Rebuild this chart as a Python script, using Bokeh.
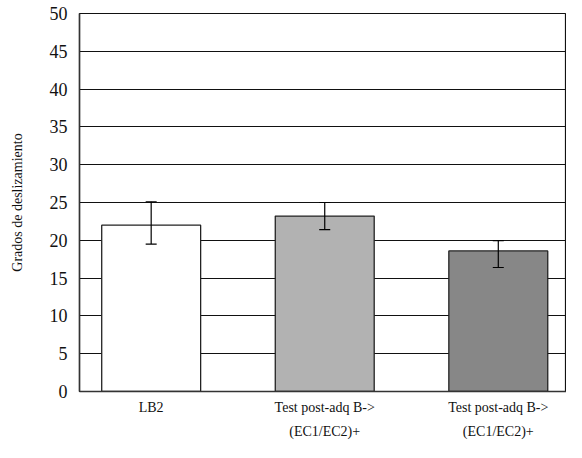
from bokeh.plotting import figure
from bokeh.models import ColumnDataSource, Range1d, FixedTicker, Whisker
from bokeh.embed import file_html
from bokeh.resources import INLINE

# ---- data ----
positions = [1, 2, 3]
labels = ["LB2", "Test post-adq B->\n(EC1/EC2)+", "Test post-adq B->\n(EC1/EC2)+"]
means = [22.0, 23.2, 18.6]
err_upper = [25.1, 25.0, 19.95]
err_lower = [19.5, 21.4, 16.4]
colors = ["#ffffff", "#b2b2b2", "#878787"]
y_ticks = [0, 5, 10, 15, 20, 25, 30, 35, 40, 45, 50]

FONT = "'Liberation Serif', 'Times New Roman', serif"

src = ColumnDataSource(dict(x=positions, top=means, upper=err_upper,
                            lower=err_lower, color=colors))

p = figure(width=566, height=442, output_backend="svg", toolbar_location=None,
           x_range=Range1d(0.587, 3.393), y_range=Range1d(0, 50),
           min_border_left=79, min_border_top=13, min_border_right=0,
           min_border_bottom=50)

p.vbar(x="x", top="top", bottom=0, width=0.57, source=src,
       fill_color="color", line_color="#222222", line_width=1.3)

w = Whisker(base="x", upper="upper", lower="lower", source=src,
            line_color="black", line_width=1.2, level="annotation")
w.upper_head.size = 11
w.lower_head.size = 11
w.upper_head.line_width = 1.2
w.lower_head.line_width = 1.2
p.add_layout(w)

# axes
p.yaxis.ticker = FixedTicker(ticks=y_ticks)
p.xaxis.ticker = FixedTicker(ticks=positions)
p.xaxis.major_label_overrides = {pos: lab for pos, lab in zip(positions, labels)}

p.yaxis.axis_label = "Grados de deslizamiento"
p.yaxis.axis_label_text_font = FONT
p.yaxis.axis_label_text_font_style = "normal"
p.yaxis.axis_label_text_font_size = "14px"
p.yaxis.axis_label_text_color = "#111111"
p.yaxis.axis_label_standoff = 22

p.yaxis.major_label_text_font = FONT
p.yaxis.major_label_text_font_style = "normal"
p.yaxis.major_label_text_font_size = "18px"
p.yaxis.major_label_text_color = "#111111"
p.yaxis.major_label_standoff = 12

p.xaxis.major_label_text_font = FONT
p.xaxis.major_label_text_font_style = "normal"
p.xaxis.major_label_text_font_size = "14px"
p.xaxis.major_label_text_color = "#111111"
p.xaxis.major_label_text_line_height = 1.65
p.xaxis.major_label_standoff = 8

for ax in (p.xaxis, p.yaxis):
    ax.major_tick_out = 0
    ax.major_tick_in = 0
    ax.minor_tick_out = 0
    ax.minor_tick_in = 0
    ax.axis_line_color = "#333333"
    ax.axis_line_width = 1.5

p.xgrid.visible = False
p.ygrid.ticker = FixedTicker(ticks=y_ticks[1:-1])
p.ygrid.grid_line_color = "#111111"
p.ygrid.grid_line_width = 1.2

p.outline_line_color = "#111111"
p.outline_line_width = 1.2
p.background_fill_color = "white"
p.border_fill_color = "white"

open("out.html", "w").write(file_html(p, INLINE))
